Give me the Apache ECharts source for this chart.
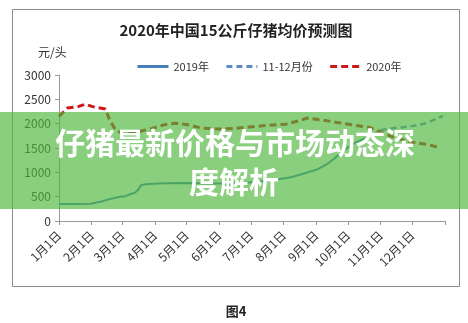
<!DOCTYPE html>
<html>
<head>
<meta charset="utf-8">
<script src="https://cdn.jsdelivr.net/npm/echarts@6/dist/echarts.min.js"></script>
<style>
html,body{margin:0;padding:0;background:#fff;}
#c{width:468px;height:323px;}
</style>
</head>
<body>
<div id="c"></div>
<script>
// Month starts (day of year, 2020) and tick labels
var monthStarts = [0, 31, 60, 91, 121, 152, 182, 213, 244, 274, 305, 335];
var monthLabels = ['1月1日','2月1日','3月1日','4月1日','5月1日','6月1日','7月1日','8月1日','9月1日','10月1日','11月1日','12月1日'];
var yTicks = [0, 500, 1000, 1500, 2000, 2500, 3000];

// 2019年 (solid)
var days2019 = [0, 15, 30, 40, 50, 58, 63, 68, 72, 75, 78, 85, 100, 120, 140, 160, 180, 200, 220, 230, 245, 255, 262, 268, 280, 292, 305];
var vals2019 = [350, 350, 355, 400, 460, 500, 510, 555, 580, 640, 740, 760, 775, 780, 770, 770, 790, 830, 900, 960, 1060, 1180, 1300, 1420, 1600, 1720, 1870];

// 11-12月份 (dashed blue)
var daysNovDec = [305, 318, 335, 348, 364];
var valsNovDec = [1870, 1910, 1950, 2010, 2160];

// 2020年 (dashed red)
var days2020 = [0, 8, 18, 25, 32, 44, 48, 54, 62, 72, 88, 100, 110, 122, 135, 150, 165, 180, 195, 215, 228, 235, 248, 262, 280, 295, 310, 320, 335, 350, 362];
var vals2020 = [2150, 2320, 2350, 2400, 2350, 2300, 2080, 1860, 1790, 1820, 1900, 1980, 2010, 1980, 1910, 1890, 1900, 1930, 1960, 1990, 2060, 2115, 2080, 2030, 1970, 1920, 1780, 1700, 1620, 1570, 1500];

function pairs(d, v) { return d.map(function (x, i) { return [x, v[i]]; }); }

var chart = echarts.init(document.getElementById('c'));
var FONT = 'Noto Sans CJK SC, Noto Sans, sans-serif';
chart.setOption({
  animation: false,
  backgroundColor: '#fff',
  grid: { left: 59, right: 23, top: 75, bottom: 102, containLabel: false },
  legend: {
    left: 131, top: 56, itemWidth: 31, itemHeight: 10, itemGap: 16,
    itemStyle: { opacity: 0 },
    lineStyle: { width: 3 },
    textStyle: { fontFamily: FONT, fontSize: 11, color: '#333' },
    data: ['2019年', '11-12月份', '2020年']
  },
  xAxis: {
    type: 'value', min: 0, max: 366,
    splitLine: { show: false },
    axisLine: { lineStyle: { color: '#999', width: 1 } },
    axisTick: { show: true, length: 4, customValues: monthStarts.concat([366]), lineStyle: { color: '#999' } },
    axisLabel: {
      customValues: monthStarts, rotate: 45, margin: 12,
      fontFamily: FONT, fontSize: 12, color: '#333',
      formatter: function (v) { var i = monthStarts.indexOf(v); return i >= 0 ? monthLabels[i] : ''; }
    }
  },
  yAxis: {
    type: 'value', min: 0, max: 3000, interval: 500,
    splitLine: { show: false },
    axisLine: { show: true, lineStyle: { color: '#999', width: 1 } },
    axisTick: { show: true, length: 4, lineStyle: { color: '#999' } },
    axisLabel: { fontFamily: FONT, fontSize: 12, color: '#333', margin: 8,
      formatter: function (v) { return String(v); } }
  },
  series: [
    { name: '2019年', type: 'line', data: pairs(days2019, vals2019), symbol: 'none',
      lineStyle: { color: '#4A7EBB', width: 2 }, itemStyle: { color: '#4A7EBB' }, z: 3 },
    { name: '11-12月份', type: 'line', data: pairs(daysNovDec, valsNovDec), symbol: 'none',
      lineStyle: { color: '#5B8CC8', width: 2.5, type: [6, 4] }, itemStyle: { color: '#5B8CC8' }, z: 3 },
    { name: '2020年', type: 'line', data: pairs(days2020, vals2020), symbol: 'none',
      lineStyle: { color: '#CC1818', width: 3, type: [7, 4] }, itemStyle: { color: '#CC1818' }, z: 4 }
  ],
  graphic: [
    { type: 'rect', z: -1, shape: { x: 12.5, y: 9.5, width: 447, height: 277 },
      style: { fill: null, stroke: '#8c8c8c', lineWidth: 1 } },
    { type: 'text', z: 10, x: 236, y: 30,
      style: { text: '2020年中国15公斤仔猪均价预测图', fontFamily: FONT, fontSize: 15, fontWeight: 'bold',
        fill: '#222', textAlign: 'center', textVerticalAlign: 'middle' } },
    { type: 'text', z: 10, x: 38, y: 52,
      style: { text: '元/头', fontFamily: FONT, fontSize: 12, fill: '#333', textAlign: 'left', textVerticalAlign: 'middle' } },
    { type: 'text', z: 10, x: 236, y: 311,
      style: { text: '图4', fontFamily: FONT, fontSize: 13, fontWeight: 'bold', fill: '#222',
        textAlign: 'center', textVerticalAlign: 'middle' } },
    { type: 'rect', z: 100, shape: { x: 0, y: 112, width: 468, height: 97 },
      style: { fill: 'rgba(77,182,59,0.66)' } },
    { type: 'text', z: 101, x: 235, y: 143,
      style: { text: '仔猪最新价格与市场动态深', fontFamily: FONT, fontSize: 30, fontWeight: 'bold',
        fill: '#fff', textAlign: 'center', textVerticalAlign: 'middle' } },
    { type: 'text', z: 101, x: 234, y: 182,
      style: { text: '度解析', fontFamily: FONT, fontSize: 30, fontWeight: 'bold',
        fill: '#fff', textAlign: 'center', textVerticalAlign: 'middle' } }
  ]
});
</script>
</body>
</html>
